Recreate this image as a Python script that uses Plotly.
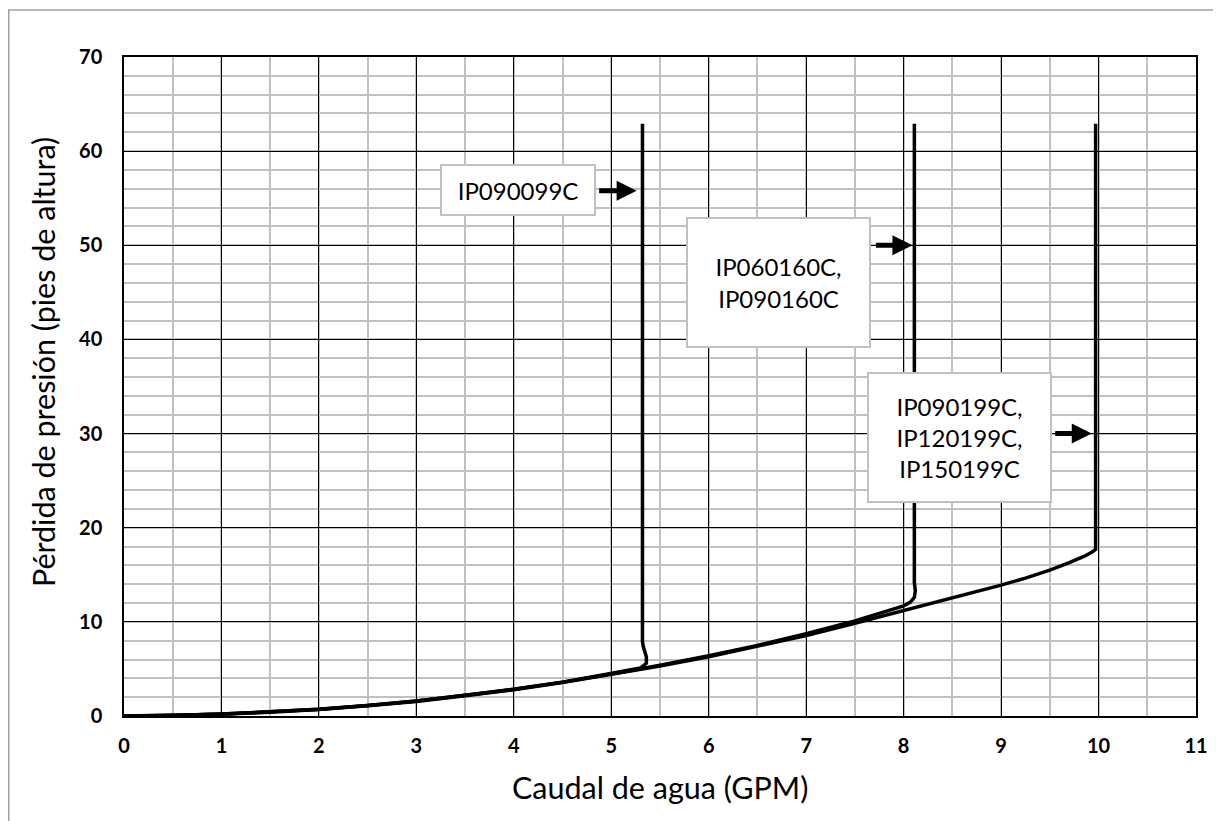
import plotly.graph_objects as go

# Curve data (Caudal GPM vs pérdida en pies de altura)
x_ip090099 = [0, 0.5, 1, 1.5, 2, 2.5, 3, 3.5, 4, 4.5, 5, 5.3, 5.36, 5.36, 5.33, 5.32, 5.32]
y_ip090099 = [0, 0.05, 0.2, 0.42, 0.72, 1.12, 1.6, 2.2, 2.85, 3.6, 4.5, 5.1, 5.6, 6.3, 7.3, 7.9, 62.9]

x_ip0x0160 = [0, 0.5, 1, 1.5, 2, 2.5, 3, 3.5, 4, 4.5, 5, 5.5, 6, 6.5, 7, 7.5, 8, 8.07, 8.11, 8.12, 8.11, 8.11]
y_ip0x0160 = [0, 0.05, 0.2, 0.42, 0.72, 1.12, 1.6, 2.2, 2.85, 3.6, 4.45, 5.4, 6.4, 7.5, 8.75, 10.1, 11.7, 12.1, 12.6, 13.3, 14.1, 62.9]

x_ipx0199 = [0, 0.5, 1, 1.5, 2, 2.5, 3, 3.5, 4, 4.5, 5, 5.5, 6, 6.5, 7, 7.5, 8, 8.5, 9, 9.25, 9.5, 9.7, 9.85, 9.93, 9.97, 9.97]
y_ipx0199 = [0, 0.05, 0.18, 0.4, 0.7, 1.1, 1.55, 2.15, 2.8, 3.55, 4.4, 5.3, 6.3, 7.4, 8.55, 9.85, 11.2, 12.5, 13.9, 14.65, 15.5, 16.3, 16.95, 17.4, 17.7, 62.9]

labels = ["IP090099C", "IP060160C,<br>IP090160C", "IP090199C,<br>IP120199C,<br>IP150199C"]
label_x = [4.04, 6.72, 8.57]
label_y = [55.9, 46.1, 29.6]
label_w = [152, 181, 181]
label_h = [48, 127, 127]
arrow_tail_x = [4.86, 7.70, 9.54]
arrow_head_x = [5.26, 8.09, 9.93]
arrow_y = [55.8, 50.0, 30.0]

x_ticks = list(range(0, 12))
y_ticks = list(range(0, 80, 10))

FONT = "Lato"

fig = go.Figure()
for xs, ys in [(x_ip090099, y_ip090099), (x_ip0x0160, y_ip0x0160), (x_ipx0199, y_ipx0199)]:
    fig.add_trace(go.Scatter(x=xs, y=ys, mode="lines",
                             line=dict(color="black", width=3.5),
                             showlegend=False, hoverinfo="skip"))

annotations = []
for t, lx, ly, w, h in zip(labels, label_x, label_y, label_w, label_h):
    annotations.append(dict(x=lx, y=ly, xref="x", yref="y", text=t, showarrow=False,
                            xanchor="center", yanchor="middle", width=w, height=h,
                            align="center", valign="middle",
                            bgcolor="white", bordercolor="#c0c0c0", borderwidth=2, borderpad=0,
                            font=dict(family=FONT, size=24, color="black")))
for tx, hx, ay in zip(arrow_tail_x, arrow_head_x, arrow_y):
    annotations.append(dict(x=hx, y=ay, ax=tx, ay=ay, xref="x", yref="y", axref="x", ayref="y",
                            text="", showarrow=True, arrowhead=2, arrowsize=0.8,
                            arrowwidth=5, arrowcolor="black"))

annotations.append(dict(x=0.5, y=-0.108, xref="paper", yref="paper",
                        text="Caudal de agua (GPM)", showarrow=False,
                        xanchor="center", yanchor="middle",
                        font=dict(family=FONT, size=30.5, color="black")))
annotations.append(dict(x=-0.0756, y=0.537, xref="paper", yref="paper",
                        text="Pérdida de presión (pies de altura)", showarrow=False,
                        textangle=-90, xanchor="center", yanchor="middle",
                        font=dict(family=FONT, size=30.5, color="black")))

fig.update_layout(
    width=1213, height=813,
    margin=dict(l=116, r=25, t=49, b=105),
    paper_bgcolor="white", plot_bgcolor="white",
    annotations=annotations,
    shapes=[dict(type="rect", xref="paper", yref="paper",
                 x0=-0.1075, x1=1.2, y0=-0.3, y1=1.0713,
                 line=dict(color="#a0a0a0", width=1.5), fillcolor="rgba(0,0,0,0)", layer="below")],
)
fig.update_xaxes(range=[0, 11], tickvals=x_ticks, ticktext=[str(v) for v in x_ticks],
                 showgrid=True, gridcolor="black", gridwidth=1,
                 minor=dict(dtick=0.5, showgrid=True, gridcolor="#c0c0c0", gridwidth=1.5),
                 showline=True, linecolor="black", linewidth=1.5, mirror=True,
                 zeroline=False, ticks="", ticklabelstandoff=11,
                 tickfont=dict(family=FONT, size=20, color="black", weight="bold"))
fig.update_yaxes(range=[0, 70], tickvals=y_ticks, ticktext=[str(v) for v in y_ticks],
                 showgrid=True, gridcolor="black", gridwidth=1,
                 minor=dict(dtick=2, showgrid=True, gridcolor="#c0c0c0", gridwidth=1.5),
                 showline=True, linecolor="black", linewidth=1.5, mirror=True,
                 zeroline=False, ticks="", ticklabelstandoff=16,
                 tickfont=dict(family=FONT, size=20, color="black", weight="bold"))

fig.write_html("out.html")
